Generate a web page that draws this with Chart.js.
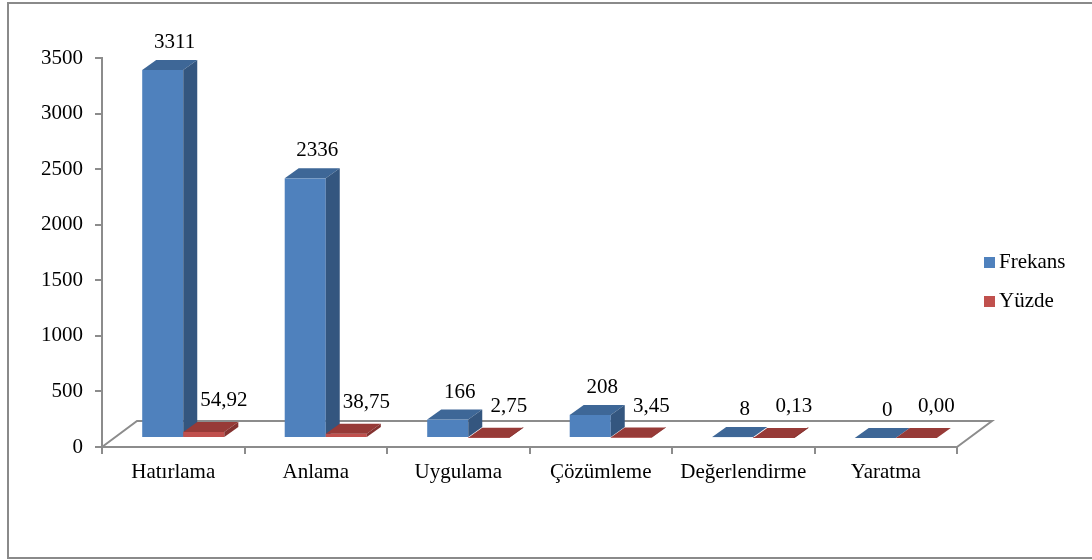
<!DOCTYPE html>
<html>
<head>
<meta charset="utf-8">
<script src="https://cdn.jsdelivr.net/npm/chart.js@4.4.1/dist/chart.umd.min.js"></script>
<style>
  html, body { margin: 0; padding: 0; background: #ffffff; }
  #wrap { width: 1092px; height: 560px; position: relative; }
</style>
</head>
<body>
<div id="wrap"><canvas id="c" width="1092" height="560"></canvas></div>
<script>
// Bloom taxonomy levels and how often each appears
const categories = ['Hatırlama', 'Anlama', 'Uygulama', 'Çözümleme', 'Değerlendirme', 'Yaratma'];
const frekans = [3311, 2336, 166, 208, 8, 0];
const yuzde = [54.92, 38.75, 2.75, 3.45, 0.13, 0.00];
const seriesNames = ['Frekans', 'Yüzde'];
const yTicks = [0, 500, 1000, 1500, 2000, 2500, 3000, 3500];

const FONT = '"Liberation Serif", "Times New Roman", serif';
const faceColors = [
  { front: '#4F81BD', top: '#3E6797', side: '#34567F' },
  { front: '#C0504D', top: '#973A37', side: '#843230' }
];

// projection of the depth axis
const FLOOR = { dx: 35, dy: -26 };   // full floor depth
const SHIFT = { dx: 10, dy: -9 };    // bars sit part-way back on the floor
const BOX = { dx: 14, dy: -10 };     // depth of each bar box

const threeD = {
  id: 'threeD',
  beforeDraw(chart) {
    const ctx = chart.ctx;
    ctx.save();
    ctx.strokeStyle = '#8a8a8a';
    ctx.lineWidth = 2;
    ctx.strokeRect(8, 3, 1200, 555);
    // floor outline
    const a = chart.chartArea;
    ctx.strokeStyle = '#8c8c8c';
    ctx.lineWidth = 2;
    ctx.beginPath();
    ctx.moveTo(a.left, a.bottom);
    ctx.lineTo(a.left + FLOOR.dx, a.bottom + FLOOR.dy);
    ctx.lineTo(a.right + FLOOR.dx, a.bottom + FLOOR.dy);
    ctx.lineTo(a.right, a.bottom);
    ctx.stroke();
    ctx.restore();
  },
  beforeDatasetsDraw() {
    return false;
  },
  afterDraw(chart) {
    const ctx = chart.ctx;
    const metas = [chart.getDatasetMeta(0), chart.getDatasetMeta(1)];
    ctx.save();
    for (let i = 0; i < categories.length; i++) {
      metas.forEach((meta, d) => {
        const el = meta.data[i];
        const c = faceColors[d];
        const L = el.x - el.width / 2 + SHIFT.dx;
        const R = el.x + el.width / 2 + SHIFT.dx;
        const T = el.y + SHIFT.dy;
        const B = el.base + SHIFT.dy;
        ctx.fillStyle = c.front;
        ctx.fillRect(L, T, R - L, B - T);
        ctx.fillStyle = c.top;
        ctx.beginPath();
        ctx.moveTo(L, T);
        ctx.lineTo(L + BOX.dx, T + BOX.dy);
        ctx.lineTo(R + BOX.dx, T + BOX.dy);
        ctx.lineTo(R, T);
        ctx.closePath();
        ctx.fill();
        ctx.fillStyle = c.side;
        ctx.beginPath();
        ctx.moveTo(R, T);
        ctx.lineTo(R + BOX.dx, T + BOX.dy);
        ctx.lineTo(R + BOX.dx, B + BOX.dy);
        ctx.lineTo(R, B);
        ctx.closePath();
        ctx.fill();
      });
    }
    // value labels
    ctx.fillStyle = '#000000';
    ctx.font = '21px ' + FONT;
    ctx.textAlign = 'center';
    ctx.textBaseline = 'alphabetic';
    metas.forEach((meta, d) => {
      const values = d === 0 ? frekans : yuzde;
      meta.data.forEach((el, i) => {
        const v = values[i];
        const txt = d === 0 ? String(v) : v.toFixed(2).replace('.', ',');
        const x = el.x + SHIFT.dx + (d === 0 ? 12 : 20);
        const y = el.y + SHIFT.dy - (d === 0 ? 29 : 33) + 7;
        ctx.fillText(txt, x, y);
      });
    });
    // legend
    const items = chart.data.datasets;
    items.forEach((ds, k) => {
      const cy = 262 + k * 39;
      ctx.fillStyle = ds.backgroundColor;
      ctx.fillRect(984, cy - 5, 11, 11);
      ctx.fillStyle = '#000000';
      ctx.textAlign = 'left';
      ctx.textBaseline = 'middle';
      ctx.fillText(ds.label, 999, cy);
    });
    ctx.restore();
  }
};

new Chart(document.getElementById('c'), {
  type: 'bar',
  data: {
    labels: categories,
    datasets: [
      { label: seriesNames[0], data: frekans, backgroundColor: faceColors[0].front },
      { label: seriesNames[1], data: yuzde, backgroundColor: faceColors[1].front }
    ]
  },
  options: {
    responsive: false,
    animation: false,
    devicePixelRatio: 1,
    categoryPercentage: 0.576,
    barPercentage: 1,
    layout: { padding: { left: 0, right: 135, top: 58, bottom: 40 } },
    plugins: { legend: { display: false }, tooltip: { enabled: false } },
    scales: {
      x: {
        grid: { display: true, drawOnChartArea: false, drawTicks: true, tickLength: 7, color: '#8c8c8c', lineWidth: 2, offset: true },
        border: { display: true, color: '#8c8c8c', width: 2 },
        ticks: { color: '#000000', font: { family: FONT, size: 21 }, padding: 6, maxRotation: 0, autoSkip: false },
        afterFit(s) { s.height = 73; }
      },
      y: {
        min: 0, max: 3500,
        afterBuildTicks(s) { s.ticks = yTicks.map(v => ({ value: v })); },
        grid: { display: true, drawOnChartArea: false, drawTicks: true, tickLength: 7, color: '#8c8c8c', lineWidth: 2 },
        border: { display: true, color: '#8c8c8c', width: 2 },
        ticks: { color: '#000000', font: { family: FONT, size: 21 }, padding: 12, callback: v => String(v) },
        afterFit(s) { s.width = 102; }
      }
    }
  },
  plugins: [threeD]
});
</script>
</body>
</html>
